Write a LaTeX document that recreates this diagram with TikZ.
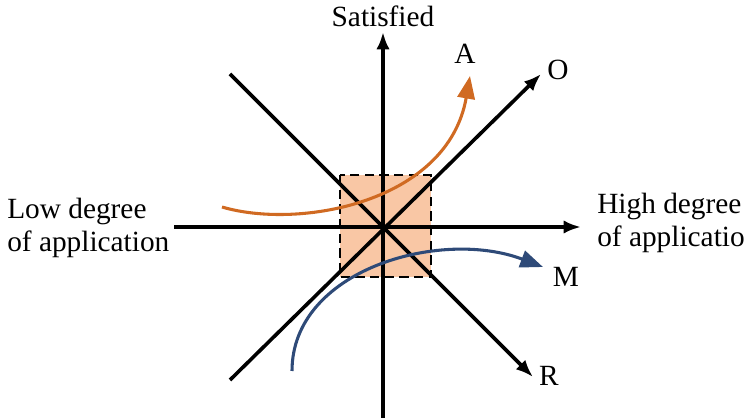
\documentclass[tikz,border=0pt]{standalone}
\usepackage{fontspec}
\setmainfont{Liberation Serif}
\usetikzlibrary{positioning, calc, arrows.meta}
\definecolor{quadfill}{HTML}{F9C7A5}
\definecolor{curveA}{HTML}{D06A22}
\definecolor{curveM}{HTML}{2E4A78}
\tikzset{
    axis/.style={line width=2.7pt, -{Latex[length=13pt,width=10pt]}},
    lbl/.style={font=\fontsize{22}{25}\selectfont, inner sep=0pt},
}
\begin{document}
\begin{tikzpicture}[x=0.75pt, y=-0.75pt]
        \clip (0,0) rectangle (744,420);
        \useasboundingbox (0,0) rectangle (744,420);
        %centro e estremi
        \coordinate (c) at (383,227);
        \coordinate (ybot) at (383,418);
        \coordinate (ytop) at (383,32);
        \coordinate (xleft) at (174,227);
        \coordinate (xright) at (581,227);
        \coordinate (oleft) at (230,380);
        \coordinate (otip) at (541,74);
        \coordinate (rleft) at (230,74);
        \coordinate (rtip) at (533,377);
        %quadrato centrale
        \draw[fill=quadfill, line width=1.5pt, dash pattern=on 7pt off 4pt] (340,175) rectangle (431,277);
        %assi
        \draw[axis] (ybot) -- (ytop);
        \draw[axis] (xleft) -- (xright);
        \draw[axis] (oleft) -- (otip);
        \draw[axis] (rleft) -- (rtip);
        %curva A
        \coordinate (astart) at (222,207);
        \coordinate (atip) at (470,76);
        \draw[curveA, line width=2.3pt, -{Triangle[length=17pt,width=13pt]}] (astart) .. controls (300,230) and (448,202) .. (atip);
        %curva M
        \coordinate (mstart) at (292,371);
        \coordinate (mtip) at (543,267);
        \draw[curveM, line width=2.3pt, -{Triangle[length=17pt,width=13pt]}] (mstart) .. controls (292,270) and (440,228) .. (mtip);
        %etichette
        \node[lbl] (sat) at (383,16) {Satisfied};
        \node[lbl, anchor=west, align=left] (low) at (7,228) {Low degree\\of application};
        \node[lbl, anchor=west, align=left] (high) at (597,223) {High degree\\of application};
        \node[lbl] (la) at (465,54) {A};
        \node[lbl] (lo) at (558,70) {O};
        \node[lbl] (lm) at (566,277) {M};
        \node[lbl] (lr) at (549,376) {R};
\end{tikzpicture}
\end{document}
